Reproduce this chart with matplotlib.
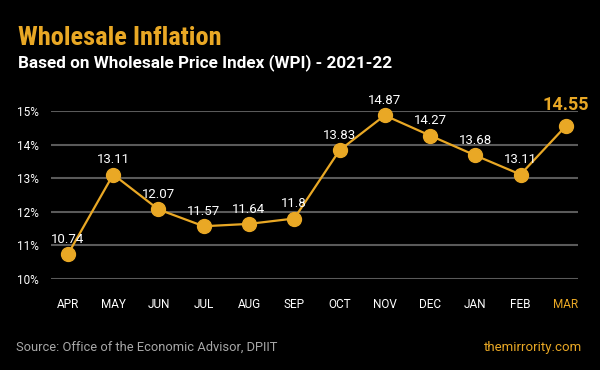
import matplotlib
matplotlib.use("Agg")
import matplotlib.pyplot as plt

months = ["APR", "MAY", "JUN", "JUL", "AUG", "SEP", "OCT", "NOV", "DEC", "JAN", "FEB", "MAR"]
values = [10.74, 13.11, 12.07, 11.57, 11.64, 11.8, 13.83, 14.87, 14.27, 13.68, 13.11, 14.55]
yticks = [10, 11, 12, 13, 14, 15]
ytick_labels = ["10%", "11%", "12%", "13%", "14%", "15%"]

GOLD = "#E9A825"
BG = "#000000"
GRID = "#5a5a5a"

plt.rcParams['font.family'] = ['Roboto', 'DejaVu Sans']

fig = plt.figure(figsize=(6, 3.7), dpi=100, facecolor=BG)
ax = fig.add_axes([51/600, 1 - 279/370, (578-51)/600, (279-111)/370], facecolor=BG)

x = list(range(len(months)))
ax.plot(x, values, color=GOLD, lw=1.6, marker="o", ms=10, mfc=GOLD, mec=GOLD, clip_on=False, zorder=3)

ax.set_xlim(-0.375, 11.27)
ax.set_ylim(10, 15)
ax.set_yticks(yticks)
ax.set_yticklabels(ytick_labels)
ax.grid(axis="y", color=GRID, lw=1.5)
ax.set_axisbelow(True)
for s in ax.spines.values():
    s.set_visible(False)
ax.tick_params(axis="both", length=0, colors="white", labelsize=8.5)
ax.tick_params(axis="y", pad=9)
ax.tick_params(axis="x", pad=14)
ax.set_xticks(x)
ax.set_xticklabels(months)
for i, lbl in enumerate(ax.get_xticklabels()):
    lbl.set_color(GOLD if i == len(months) - 1 else "white")

for i, v in enumerate(values):
    if i == len(values) - 1:
        ax.annotate(f"{v:g}", (i, v), xytext=(0, 9), textcoords="offset points",
                    ha="center", va="bottom", color=GOLD, fontsize=13, fontweight="bold")
    else:
        ax.annotate(f"{v:g}", (i, v), xytext=(0, 6), textcoords="offset points",
                    ha="center", va="bottom", color="white", fontsize=9.5)

fig.text(18/600, 1 - 45/370, "Wholesale Inflation", color=GOLD, fontsize=19,
         fontweight="bold", fontstretch="condensed",
         family=["Roboto Condensed", "DejaVu Sans Condensed", "DejaVu Sans"], va="baseline")
fig.text(18/600, 1 - 67/370, "Based on Wholesale Price Index (WPI) - 2021-22", color="white",
         fontsize=12.3, fontweight="bold", va="baseline")
fig.text(16/600, 1 - 351/370, "Source: Office of the Economic Advisor, DPIIT", color="#a8a8a8",
         fontsize=9.3, va="baseline")
fig.text(582/600, 1 - 351/370, "themirrority.com", color=GOLD, fontsize=9.5, ha="right", va="baseline")

fig.savefig("out.png", dpi=100, facecolor=BG)
